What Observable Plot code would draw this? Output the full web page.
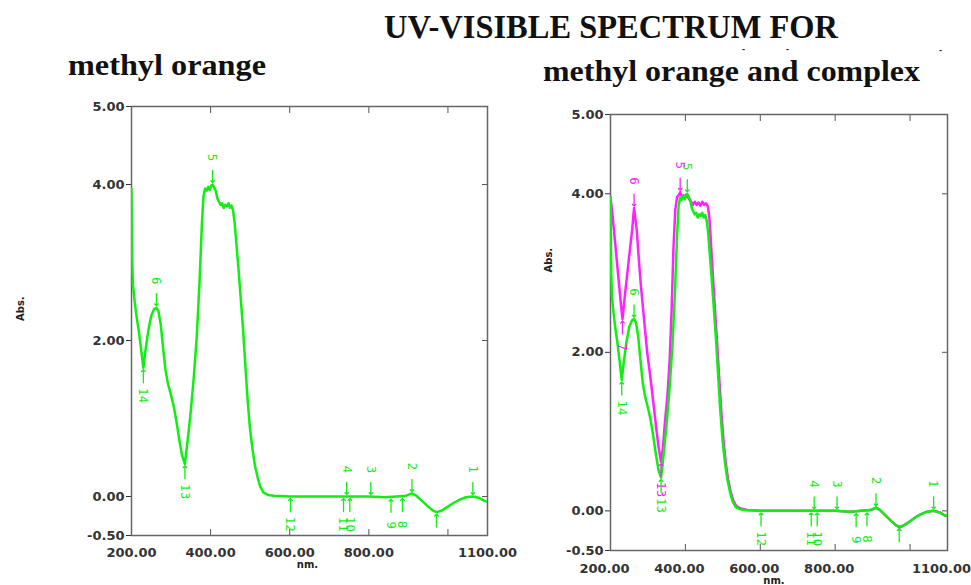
<!DOCTYPE html>
<html>
<head>
<meta charset="utf-8">
<script src="https://cdn.jsdelivr.net/npm/d3@7"></script>
<script src="https://cdn.jsdelivr.net/npm/@observablehq/plot@0.6"></script>
<style>
  body { margin: 0; background: #fff; }
  #root { position: relative; width: 971px; height: 585px; overflow: hidden; background: #fff; }
  #left { position: absolute; left: 0; top: 90px; }
  #right { position: absolute; left: 530px; top: 90px; }
  #titles { position: absolute; left: 0; top: 0; }
</style>
</head>
<body>
<div id="root">
  <svg id="titles" width="971" height="100">
    <text x="611" y="38" text-anchor="middle" font-family="Liberation Serif, serif" font-weight="bold" font-size="33" textLength="454" lengthAdjust="spacingAndGlyphs" fill="#111">UV-VISIBLE SPECTRUM FOR</text>
    <text x="68" y="75" font-family="Liberation Serif, serif" font-weight="bold" font-size="30" textLength="198" lengthAdjust="spacingAndGlyphs" fill="#111">methyl orange</text>
    <text x="543" y="81" font-family="Liberation Serif, serif" font-weight="bold" font-size="30" textLength="377" lengthAdjust="spacingAndGlyphs" fill="#111">methyl orange and complex</text>
    <text x="742" y="52" font-family="Liberation Sans, sans-serif" font-weight="bold" font-size="9" fill="#222">-</text>
    <text x="786" y="52" font-family="Liberation Sans, sans-serif" font-weight="bold" font-size="9" fill="#222">-</text>
    <text x="939" y="53" font-family="Liberation Sans, sans-serif" font-weight="bold" font-size="9" fill="#222">-</text>
  </svg>
  <div id="left"></div>
  <div id="right"></div>
</div>
<script>
// ---------------- data ----------------
const xDomain = [200, 1100];
const yDomain = [-0.5, 5];
const yTickLabels = [5, 4, 2, 0, -0.5];
const yInnerTicks = [4, 2, 0];
const xTickLabels = [200, 400, 600, 800, 1100];
const xInnerTicks = [400, 600, 800, 1000];

// methyl orange (green)
const moNm  = [200,201,202,204,208,213,218,224,230,236,243,250,257,263,268,274,280,286,292,300,307,314,321,328,335,342,349,357,365,372,378,382,386,390,394,398,402,405,409,413,417,421,425,429,433,437,441,445,449,453,457,461,465,470,476,482,487,493,499,506,512,519,526,534,545,560,600,650,700,750,800,840,870,895,909,920,935,950,962,972,985,1000,1015,1030,1045,1063,1080,1090,1100];
const moAbs = [3.95,3.40,3.00,2.70,2.50,2.30,2.14,1.90,1.65,1.90,2.14,2.32,2.40,2.42,2.38,2.20,1.90,1.62,1.45,1.30,1.15,0.95,0.72,0.52,0.42,0.72,1.05,1.50,2.05,2.75,3.50,3.85,3.95,3.92,3.97,3.93,3.99,4.00,3.96,3.92,3.82,3.78,3.74,3.76,3.70,3.74,3.72,3.76,3.70,3.73,3.66,3.50,3.25,2.95,2.55,2.15,1.75,1.28,0.90,0.60,0.40,0.24,0.12,0.05,0.02,0.01,0.00,0.00,0.00,0.00,0.00,-0.01,0.00,0.01,0.04,0.01,-0.06,-0.13,-0.18,-0.20,-0.18,-0.13,-0.08,-0.04,-0.01,0.00,-0.02,-0.05,-0.07];

// methyl orange + complex (magenta)
const cxNm  = [200,205,212,218,224,229,232,238,245,252,258,261,263,266,270,276,281,286,292,298,304,310,316,322,328,335,340,346,352,358,363,368,373,378,382,386,390,395,400,405,410,415,420,425,430,435,440,445,450,455,460,464,468,473,479,485,490,496,502,508,514,521,528,536,548,565,600,650,700,750,800,840,870,895,909,920,935,950,962,972,985,1000,1015,1030,1045,1063,1080,1090,1100];
const cxAbs = [3.96,3.75,3.40,3.10,2.80,2.55,2.42,2.70,3.00,3.30,3.55,3.72,3.82,3.70,3.55,3.15,2.85,2.60,2.30,2.00,1.78,1.55,1.30,1.05,0.82,0.62,0.80,1.15,1.45,1.90,2.50,3.30,3.80,3.96,3.98,4.02,3.97,3.98,3.95,3.98,3.93,3.90,3.86,3.90,3.86,3.89,3.85,3.90,3.86,3.88,3.84,3.70,3.40,3.00,2.55,2.10,1.70,1.25,0.88,0.60,0.40,0.24,0.13,0.06,0.03,0.01,0.00,0.00,0.00,0.00,0.00,-0.01,0.00,0.01,0.04,0.01,-0.06,-0.13,-0.18,-0.21,-0.18,-0.13,-0.08,-0.04,-0.01,0.00,-0.02,-0.05,-0.07];

// peak / valley picks
const moPeakLabel = ["6","5","4","3","2","1"];
const moPeakNm    = [263, 405, 744, 805, 909, 1063];
const moPeakAbs   = [2.42, 4.00, 0.00, 0.00, 0.04, 0.00];
const moValleyLabel = ["14","13","12","11","10","9","8","7"];
const moValleyNm    = [230, 335, 602, 736, 752, 856, 885, 971];
const moValleyAbs   = [1.65, 0.42, 0.00, 0.00, 0.00, -0.01, 0.00, -0.20];

const cxPeakLabel = ["6","5"];
const cxPeakNm    = [263, 386];
const cxPeakAbs   = [3.82, 4.02];
const cxValleyLabel = ["7","13"];
const cxValleyNm    = [232, 335];
const cxValleyAbs   = [2.42, 0.62];

const GREEN = "#11ee11";
const MAGENTA = "#ff22ff";

// ---------------- helpers ----------------
const zip = (nm, ab) => nm.map((x, i) => ({nm: x, abs: ab[i]}));
const picks = (lab, nm, ab) => lab.map((l, i) => ({label: l, nm: nm[i], abs: ab[i]}));

const LABEL_FONT = "Liberation Sans Narrow, DejaVu Sans Condensed, sans-serif";

function markerMarks(peaks, valleys, color) {
  return [
    Plot.vector(peaks, {x: "nm", y: "abs", rotate: 180, length: 12, anchor: "end", dy: -2, stroke: color, strokeWidth: 1.3, r: 2.5}),
    Plot.text(peaks, {x: "nm", y: "abs", text: "label", rotate: 90, dy: -27, fill: color, fontSize: 13, fontFamily: LABEL_FONT, clip: true}),
    Plot.vector(valleys, {x: "nm", y: "abs", rotate: 0, length: 13, anchor: "end", dy: 2, stroke: color, strokeWidth: 1.3, r: 2.5}),
    Plot.text(valleys, {x: "nm", y: "abs", text: "label", rotate: 90, dy: 28, fill: color, fontSize: 13, fontFamily: LABEL_FONT, clip: true})
  ];
}

function panel(cfg) {
  return Plot.plot({
    width: cfg.width, height: cfg.height,
    marginLeft: cfg.ml, marginRight: cfg.mr, marginTop: cfg.mt, marginBottom: cfg.mb,
    x: {domain: xDomain},
    y: {domain: yDomain},
    style: {background: "transparent", fontFamily: "DejaVu Sans, sans-serif", overflow: "visible"},
    marks: [
      Plot.axisY({anchor: "left", ticks: yTickLabels, tickFormat: d => d.toFixed(2), tickSize: 5, tickPadding: 2,
                  fontSize: 13, fontWeight: "bold", color: "#333", label: null}),
      Plot.axisY({anchor: "right", ticks: yInnerTicks, tickFormat: () => "", tickSize: 6, dx: -6, color: "#555", label: null}),
      Plot.axisX({anchor: "bottom", ticks: xTickLabels, tickFormat: d => d.toFixed(2), tickSize: 0, tickPadding: cfg.xpad, dx: cfg.xdx,
                  fontSize: 13, fontWeight: "bold", color: "#333", label: null}),
      Plot.axisX({anchor: "bottom", ticks: xInnerTicks, tickFormat: () => "", tickSize: 6, dy: -6, color: "#555", label: null}),
      Plot.axisX({anchor: "top", ticks: xInnerTicks, tickFormat: () => "", tickSize: 6, dy: 6, color: "#555", label: null}),
      Plot.frame({stroke: "#666", strokeWidth: 1.5}),
      ...cfg.series.map(s => Plot.line(s.data, {x: "nm", y: "abs", stroke: s.color, strokeWidth: 2.5, clip: true})),
      ...cfg.markers,
      Plot.text(["Abs."], {frameAnchor: "left", text: d => d, dx: cfg.absDx, dy: cfg.absDy, rotate: -90, fontSize: 10, fontWeight: "bold", fill: "#222"}),
      Plot.text(["nm."], {frameAnchor: "bottom", text: d => d, dx: cfg.nmDx, dy: cfg.nmDy, fontSize: 10, fontWeight: "bold", fill: "#222"})
    ]
  });
}

const moData = zip(moNm, moAbs);
const cxData = zip(cxNm, cxAbs);
const moPeaks = picks(moPeakLabel, moPeakNm, moPeakAbs);
const moValleys = picks(moValleyLabel, moValleyNm, moValleyAbs);
const cxPeaks = picks(cxPeakLabel, cxPeakNm, cxPeakAbs);
const cxValleys = picks(cxValleyLabel, cxValleyNm, cxValleyAbs);

document.getElementById("left").append(panel({
  width: 530, height: 495, ml: 131, mr: 43, mt: 16, mb: 50, xpad: 12, xdx: 0,
  series: [{data: moData, color: GREEN}],
  markers: markerMarks(moPeaks, moValleys, GREEN),
  absDx: -111, absDy: 0, nmDx: -2, nmDy: 32
}));

document.getElementById("right").append(panel({
  width: 441, height: 495, ml: 80, mr: 24, mt: 24, mb: 35, xpad: 13, xdx: -6,
  series: [{data: cxData, color: MAGENTA}, {data: moData, color: GREEN}],
  markers: [...markerMarks(cxPeaks, cxValleys, MAGENTA), ...markerMarks(moPeaks, moValleys, GREEN)],
  absDx: -62, absDy: -60, nmDx: -5, nmDy: 33
}));
</script>
</body>
</html>
